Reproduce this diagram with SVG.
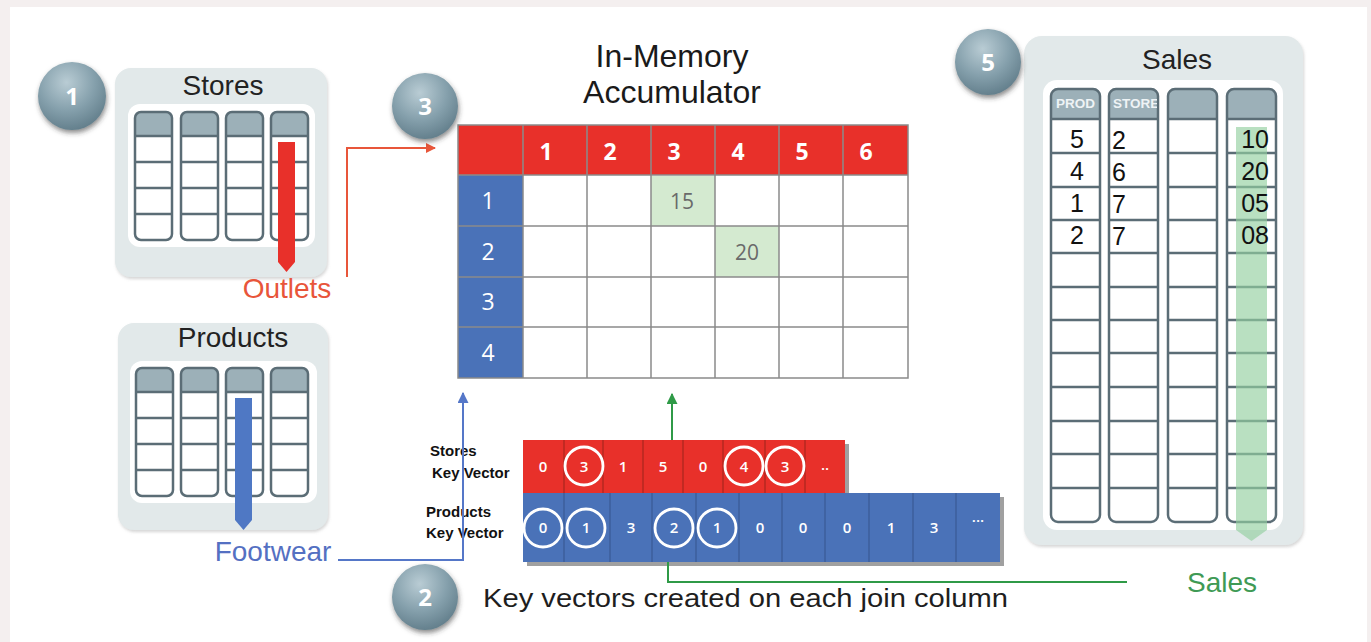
<svg xmlns="http://www.w3.org/2000/svg" width="1371" height="642" viewBox="0 0 1371 642">
<defs>
<style>
.sans{font-family:"Liberation Sans",Arial,sans-serif}
.cal{font-family:"Open Sans","Liberation Sans",sans-serif}
.panel{fill:#e2e9ea}
.inner{fill:#ffffff}
.colbody{fill:#ffffff}
.colhead{fill:#9cb0b8}
.colline{fill:none;stroke:#5b6d76;stroke-width:2.5}
.grid{stroke:#8a8a8a;stroke-width:1.5;fill:none}
.badgeTxt{font-family:"Open Sans","Liberation Sans",sans-serif;font-weight:700;font-size:24px;fill:#ffffff;text-anchor:middle}
.title{font-family:"Liberation Sans",Arial,sans-serif;font-size:28px;fill:#222;text-anchor:middle}
.vnum{font-family:"Open Sans","Liberation Sans",sans-serif;font-weight:600;font-size:15px;fill:#ffffff;text-anchor:middle}
.ring{fill:none;stroke:#ffffff;stroke-width:2.8}
.kvl{font-family:"Liberation Sans",Arial,sans-serif;font-weight:700;font-size:15px;fill:#111}
.snum{font-family:"Liberation Sans",Arial,sans-serif;font-size:25px;fill:#111}
.shead{font-family:"Liberation Sans",Arial,sans-serif;font-weight:700;font-size:13.5px;fill:#eef3f5}
</style>
<radialGradient id="badgeGrad" cx="0.42" cy="0.3" r="0.75">
<stop offset="0" stop-color="#b9ccd4"/>
<stop offset="0.55" stop-color="#85a0ac"/>
<stop offset="1" stop-color="#5f7b88"/>
</radialGradient>
<filter id="shadow" x="-30%" y="-30%" width="160%" height="160%">
<feDropShadow dx="1" dy="3" stdDeviation="2.5" flood-color="#333" flood-opacity="0.55"/>
</filter>
<filter id="pshadow" x="-5%" y="-5%" width="110%" height="110%">
<feDropShadow dx="1" dy="2" stdDeviation="1.5" flood-color="#888" flood-opacity="0.35"/>
</filter>
<marker id="arrRed" viewBox="0 0 10 10" refX="9" refY="5" markerWidth="10" markerHeight="10" markerUnits="userSpaceOnUse" orient="auto">
<path d="M0,0 L10,5 L0,10 Z" fill="#e8563a"/>
</marker>
<marker id="arrBlue" viewBox="0 0 10 10" refX="9" refY="5" markerWidth="11" markerHeight="11" markerUnits="userSpaceOnUse" orient="auto">
<path d="M0,0 L10,5 L0,10 Z" fill="#5577c8"/>
</marker>
<marker id="arrGreen" viewBox="0 0 10 10" refX="9" refY="5" markerWidth="11" markerHeight="11" markerUnits="userSpaceOnUse" orient="auto">
<path d="M0,0 L10,5 L0,10 Z" fill="#2f9a47"/>
</marker>
<g id="tcol">
<rect x="0" y="0" width="37" height="128" rx="6" class="colbody"/>
<path d="M0,24 V6 A6,6 0 0 1 6,0 H31 A6,6 0 0 1 37,6 V24 Z" class="colhead"/>
<rect x="0" y="0" width="37" height="128" rx="6" class="colline"/>
<path d="M0,24 H37 M0,50 H37 M0,76 H37 M0,102 H37" class="colline"/>
</g>
<g id="scol">
<rect x="0" y="0" width="49" height="433" rx="7" class="colbody"/>
<path d="M0,30 V7 A7,7 0 0 1 7,0 H42 A7,7 0 0 1 49,7 V30 Z" class="colhead"/>
<rect x="0" y="0" width="49" height="433" rx="7" class="colline"/>
<path d="M0,30 H49 M0,64 H49 M0,98 H49 M0,131 H49 M0,164 H49 M0,198 H49 M0,231 H49 M0,264 H49 M0,298 H49 M0,332 H49 M0,365 H49 M0,399 H49" class="colline"/>
</g>
<clipPath id="storeClip"><rect x="1110" y="90" width="47" height="28"/></clipPath>
<clipPath id="prodClip"><rect x="1052" y="90" width="47" height="28"/></clipPath>
</defs>

<rect x="0" y="0" width="1371" height="642" fill="#f4efef"/>
<rect x="10" y="7" width="1357" height="635" fill="#ffffff"/>

<!-- Stores table -->
<g id="stores">
<rect x="115" y="68" width="212" height="209" rx="16" class="panel" filter="url(#pshadow)"/>
<rect x="128" y="104" width="187" height="143" rx="12" class="inner"/>
<text x="223" y="95" class="title">Stores</text>
<use href="#tcol" x="135" y="112"/>
<use href="#tcol" x="181" y="112"/>
<use href="#tcol" x="226" y="112"/>
<use href="#tcol" x="271" y="112"/>
<polygon points="278,142 295,142 295,262 286.5,272 278,262" fill="#e8302a"/>
</g>

<!-- Products table -->
<g id="products">
<rect x="118" y="323" width="210" height="207" rx="16" class="panel" filter="url(#pshadow)"/>
<rect x="130" y="361" width="187" height="142" rx="12" class="inner"/>
<text x="233" y="347" class="title">Products</text>
<use href="#tcol" x="136" y="368"/>
<use href="#tcol" x="181" y="368"/>
<use href="#tcol" x="226" y="368"/>
<use href="#tcol" x="271" y="368"/>
<polygon points="235,398 252,398 252,520 243.5,530 235,520" fill="#4f78c4"/>
</g>

<!-- Sales table -->
<g id="sales">
<rect x="1024" y="36" width="279" height="509" rx="18" class="panel" filter="url(#pshadow)"/>
<rect x="1043" y="80" width="240" height="450" rx="14" class="inner"/>
<text x="1177" y="69" class="title">Sales</text>
<use href="#scol" x="1051" y="89"/>
<use href="#scol" x="1109" y="89"/>
<use href="#scol" x="1168" y="89"/>
<use href="#scol" x="1227" y="89"/>
<polygon points="1236,127 1267,127 1267,530 1251.5,541 1236,530" fill="#93d0a0" opacity="0.65"/>
<text x="1056" y="108" class="shead" clip-path="url(#prodClip)">PROD</text>
<text x="1113" y="108" class="shead" clip-path="url(#storeClip)">STORE</text>
<g class="snum" text-anchor="middle">
<text x="1077" y="148">5</text>
<text x="1077" y="180">4</text>
<text x="1077" y="212">1</text>
<text x="1077" y="244">2</text>
</g>
<g class="snum">
<text x="1112" y="149">2</text>
<text x="1112" y="181">6</text>
<text x="1112" y="213">7</text>
<text x="1112" y="245">7</text>
</g>
<g class="snum" text-anchor="end">
<text x="1269" y="148">10</text>
<text x="1269" y="180">20</text>
<text x="1269" y="212">05</text>
<text x="1269" y="244">08</text>
</g>
</g>

<!-- Accumulator -->
<g id="accumulator">
<text x="672" y="67" class="sans" font-size="32" fill="#1a1a1a" text-anchor="middle">In-Memory</text>
<text x="672" y="103" class="sans" font-size="32" fill="#1a1a1a" text-anchor="middle">Accumulator</text>
<rect x="458" y="125" width="450" height="50" fill="#e8302a"/>
<rect x="458" y="175" width="65" height="203" fill="#4a72b8"/>
<rect x="523" y="175" width="385" height="203" fill="#ffffff"/>
<rect x="651" y="176" width="64" height="50" fill="#d4ead0"/>
<rect x="715" y="226" width="64" height="51" fill="#d4ead0"/>
<path d="M523,125 V378 M587,125 V378 M651,125 V378 M715,125 V378 M779,125 V378 M843,125 V378 M458,226 H908 M458,277 H908 M458,327 H908 M458,175 H908" class="grid"/>
<rect x="458" y="125" width="450" height="253" class="grid"/>
<g class="cal" font-weight="700" font-size="23" fill="#ffffff" text-anchor="middle">
<text x="546" y="160">1</text>
<text x="610" y="160">2</text>
<text x="674" y="160">3</text>
<text x="738" y="160">4</text>
<text x="802" y="160">5</text>
<text x="866" y="160">6</text>
</g>
<g class="cal" font-size="23" fill="#ffffff" text-anchor="middle">
<text x="488" y="209">1</text>
<text x="488" y="260">2</text>
<text x="488" y="310">3</text>
<text x="488" y="361">4</text>
</g>
<g class="cal" font-size="21" fill="#6a6a6a" text-anchor="middle">
<text x="682" y="209">15</text>
<text x="747" y="260">20</text>
</g>
</g>

<!-- Key vectors -->
<g id="storesKeyVector">
<text x="430" y="456" class="kvl">Stores</text>
<text x="432" y="478" class="kvl">Key Vector</text>
<rect x="527" y="444" width="322" height="53" fill="#777" opacity="0.7"/>
<rect x="523" y="440" width="322" height="53" fill="#e8302a"/>
<path d="M564,440 V493 M603,440 V493 M643,440 V493 M683,440 V493 M723,440 V493 M765,440 V493 M805,440 V493" stroke="#a8261f" stroke-width="1.2"/>
<g class="vnum">
<text x="543" y="472">0</text>
<text x="584" y="472">3</text>
<text x="623" y="472">1</text>
<text x="663" y="472">5</text>
<text x="703" y="472">0</text>
<text x="744" y="472">4</text>
<text x="785" y="472">3</text>
<text x="825" y="470">..</text>
</g>
<circle cx="584" cy="466" r="19" class="ring"/>
<circle cx="744" cy="466" r="19" class="ring"/>
<circle cx="785" cy="466" r="19" class="ring"/>
</g>

<g id="productsKeyVector">
<text x="426" y="517" class="kvl">Products</text>
<text x="426" y="538" class="kvl">Key Vector</text>
<rect x="527" y="497" width="477" height="69" fill="#777" opacity="0.7"/>
<rect x="523" y="493" width="477" height="69" fill="#4a72b8"/>
<path d="M564,493 V562 M610,493 V562 M652,493 V562 M696,493 V562 M739,493 V562 M782,493 V562 M825,493 V562 M869,493 V562 M913,493 V562 M956,493 V562" stroke="#3a5a94" stroke-width="1.2"/>
<g class="vnum">
<text x="543" y="533">0</text>
<text x="586" y="533">1</text>
<text x="631" y="533">3</text>
<text x="674" y="533">2</text>
<text x="717" y="533">1</text>
<text x="760" y="533">0</text>
<text x="803" y="533">0</text>
<text x="847" y="533">0</text>
<text x="891" y="533">1</text>
<text x="934" y="533">3</text>
<text x="978" y="522">...</text>
</g>
<circle cx="543" cy="528" r="19" class="ring"/>
<circle cx="586" cy="528" r="19" class="ring"/>
<circle cx="674" cy="528" r="19" class="ring"/>
<circle cx="717" cy="528" r="19" class="ring"/>
</g>

<!-- Connectors -->
<g id="connectors" fill="none" stroke-width="2">
<polyline points="347,277 347,148 435,148" stroke="#e8563a" marker-end="url(#arrRed)"/>
<polyline points="338,560 463,560 463,393" stroke="#5577c8" marker-end="url(#arrBlue)"/>
<line x1="672" y1="440" x2="672" y2="394" stroke="#2f9a47" marker-end="url(#arrGreen)"/>
<polyline points="668,562 668,582 1127,582" stroke="#2f9a47"/>
</g>

<!-- Labels -->
<g id="labels">
<text x="287" y="298" class="sans" font-size="28" fill="#e8553a" text-anchor="middle">Outlets</text>
<text x="273" y="561" class="sans" font-size="28" fill="#5470c2" text-anchor="middle">Footwear</text>
<text x="1222" y="592" class="sans" font-size="28" fill="#3f9a55" text-anchor="middle">Sales</text>
<text x="483" y="607" class="sans" font-size="26" fill="#1e1e1e" textLength="525" lengthAdjust="spacingAndGlyphs">Key vectors created on each join column</text>
</g>

<!-- Badges -->
<g id="badge1"><circle cx="72" cy="96" r="34" fill="url(#badgeGrad)" filter="url(#shadow)"/><text x="72" y="105" class="badgeTxt">1</text></g>
<g id="badge2"><circle cx="425" cy="597" r="33" fill="url(#badgeGrad)" filter="url(#shadow)"/><text x="425" y="606" class="badgeTxt">2</text></g>
<g id="badge3"><circle cx="425" cy="106" r="33" fill="url(#badgeGrad)" filter="url(#shadow)"/><text x="425" y="115" class="badgeTxt">3</text></g>
<g id="badge5"><circle cx="988" cy="62" r="33" fill="url(#badgeGrad)" filter="url(#shadow)"/><text x="988" y="71" class="badgeTxt">5</text></g>
</svg>
